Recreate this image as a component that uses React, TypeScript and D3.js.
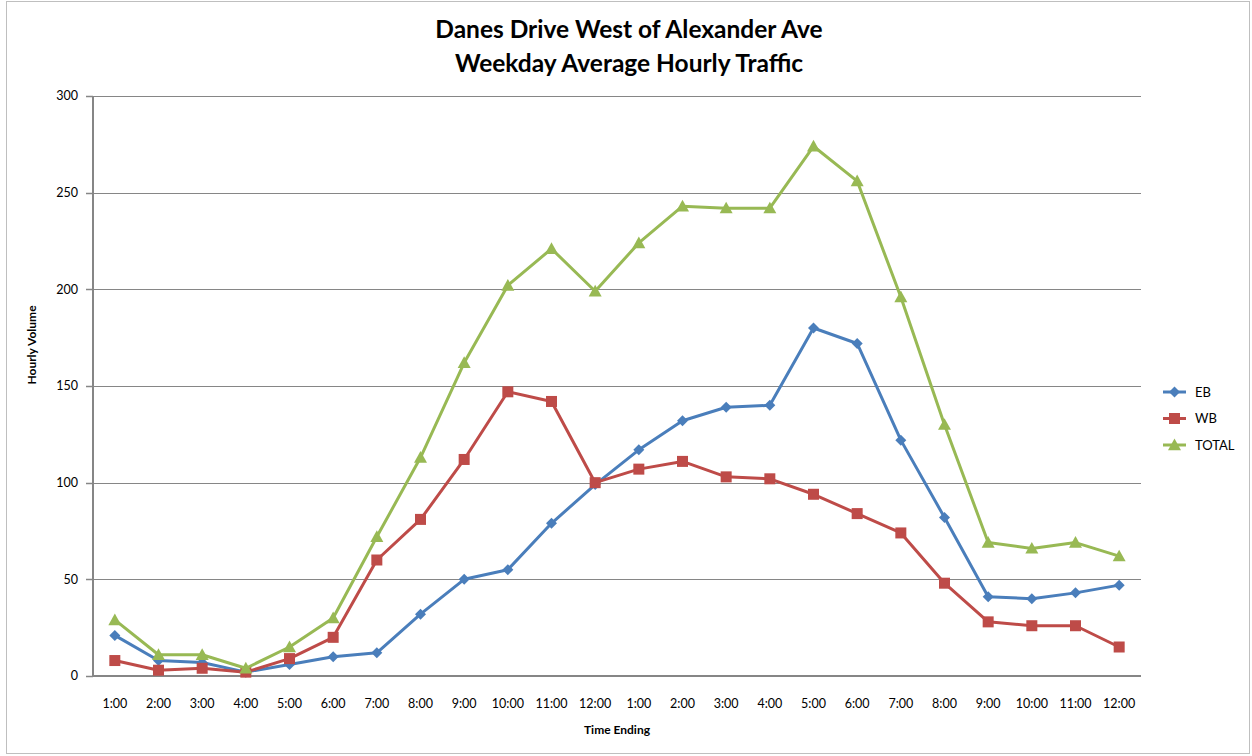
import React from "react";
import * as d3 from "d3";

const categories = ["1:00","2:00","3:00","4:00","5:00","6:00","7:00","8:00","9:00","10:00","11:00","12:00","1:00","2:00","3:00","4:00","5:00","6:00","7:00","8:00","9:00","10:00","11:00","12:00"];
const ebValues = [21,8,7,2,6,10,12,32,50,55,79,99,117,132,139,140,180,172,122,82,41,40,43,47];
const wbValues = [8,3,4,2,9,20,60,81,112,147,142,100,107,111,103,102,94,84,74,48,28,26,26,15];
const totalValues = [29,11,11,4,15,30,72,113,162,202,221,199,224,243,242,242,274,256,196,130,69,66,69,62];
const yTicks = [0,50,100,150,200,250,300];

const series = [
  { name: "EB", values: ebValues, color: "#4A7EBB", marker: "diamond" },
  { name: "WB", values: wbValues, color: "#BE4B48", marker: "square" },
  { name: "TOTAL", values: totalValues, color: "#98B954", marker: "triangle" },
];

const W = 1252, H = 756;
const left = 93, right = 1141, top = 96, bottom = 676;
const FONT = "Lato, 'Open Sans', sans-serif";

function Marker({ type, x, y, color }: { type: string; x: number; y: number; color: string }) {
  if (type === "diamond") {
    const s = 5.5;
    return <path d={`M${x},${y - s}L${x + s},${y}L${x},${y + s}L${x - s},${y}Z`} fill={color} />;
  }
  if (type === "square") {
    const s = 5.5;
    return <rect x={x - s} y={y - s} width={2 * s} height={2 * s} fill={color} />;
  }
  const s = 6.5;
  return <path d={`M${x},${y - s}L${x + s},${y + s * 0.8}L${x - s},${y + s * 0.8}Z`} fill={color} />;
}

export default function App() {
  const idx = categories.map((_, i) => String(i));
  const x = d3.scaleBand<string>().domain(idx).range([left, right]);
  const y = d3.scaleLinear().domain([0, 300]).range([bottom, top]);
  const cx = (i: number) => (x(String(i)) as number) + x.bandwidth() / 2;
  const line = d3.line<number>().x((_, i) => cx(i)).y((d) => y(d));

  return (
    <svg width={W} height={H} style={{ position: "absolute", left: 0, top: 0, background: "#fff" }} fontFamily={FONT}>
      <rect x={6.5} y={1.5} width={1243} height={752} fill="#fff" stroke="#BFBFBF" strokeWidth={1} />
      <text x={629} y={38} textAnchor="middle" fontSize={24.5} fontWeight="bold" fill="#000">Danes Drive West of Alexander Ave</text>
      <text x={629} y={72} textAnchor="middle" fontSize={24.5} fontWeight="bold" fill="#000">Weekday Average Hourly Traffic</text>

      {yTicks.map((t) => (
        <g key={t}>
          {t > 0 && <line x1={left} x2={right} y1={Math.round(y(t)) + 0.5} y2={Math.round(y(t)) + 0.5} stroke="#868686" strokeWidth={1} />}
          <line x1={left - 7} x2={left} y1={Math.round(y(t)) + 0.5} y2={Math.round(y(t)) + 0.5} stroke="#868686" strokeWidth={1.5} />
          <text x={left - 15} y={y(t)} dy="0.35em" textAnchor="end" fontSize={12.5} fill="#000">{t}</text>
        </g>
      ))}
      <line x1={left} x2={left} y1={top} y2={bottom} stroke="#868686" strokeWidth={2} />
      <line x1={left} x2={right} y1={bottom} y2={bottom} stroke="#868686" strokeWidth={2} />

      {categories.map((c, i) => (
        <text key={i} x={cx(i)} y={704} dy="0.35em" textAnchor="middle" fontSize={12.5} fill="#000">{c}</text>
      ))}

      <text x={617} y={730} dy="0.35em" textAnchor="middle" fontSize={12} fontWeight="bold" fill="#000">Time Ending</text>
      <text transform={`translate(32,345) rotate(-90)`} textAnchor="middle" dy="0.35em" fontSize={12} fontWeight="bold" fill="#000">Hourly Volume</text>

      {series.map((s) => (
        <g key={s.name}>
          <path d={line(s.values) || ""} fill="none" stroke={s.color} strokeWidth={3} strokeLinejoin="round" />
          {s.values.map((v, i) => (
            <Marker key={i} type={s.marker} x={cx(i)} y={y(v)} color={s.color} />
          ))}
        </g>
      ))}

      {series.map((s, k) => {
        const ly = 392 + k * 26.5;
        return (
          <g key={s.name}>
            <line x1={1163} x2={1186} y1={ly} y2={ly} stroke={s.color} strokeWidth={3} />
            <Marker type={s.marker} x={1174.5} y={ly} color={s.color} />
            <text x={1195} y={ly} dy="0.35em" fontSize={13} fill="#000">{s.name}</text>
          </g>
        );
      })}
    </svg>
  );
}
